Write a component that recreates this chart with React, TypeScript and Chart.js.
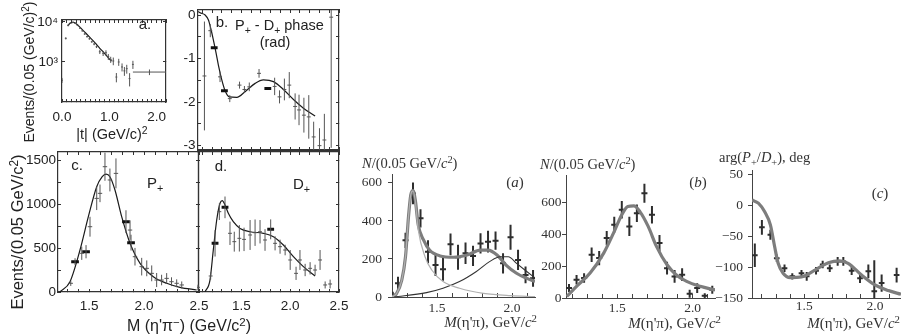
import React, { useEffect, useRef } from 'react';
import { Chart, registerables } from 'chart.js';

Chart.register(...registerables);

const SANS = '"Liberation Sans", Arial, Helvetica, sans-serif';
const SERIF = '"Liberation Serif", "Times New Roman", Times, serif';
const INK = '#333';
const TXT = '#222';
const RTXT = '#333';

// ---------------- Left (a): |t| distribution (log) ----------------
const tVals = [0.0, 0.08, 0.13, 0.18, 0.23, 0.28, 0.33, 0.38, 0.43, 0.48, 0.53, 0.58, 0.63, 0.68, 0.73, 0.8, 0.87, 0.93, 0.98, 1.03, 1.085, 1.15, 1.2, 1.27, 1.32, 1.37, 1.43, 1.5, 1.85];
const tEvents = [350, 3900, 8300, 9400, 9800, 9300, 8200, 7000, 6000, 5000, 4300, 3800, 3200, 2800, 2400, 1800, 1650, 1700, 1350, 1150, 1060, 420, 1000, 750, 600, 680, 385, 870, 560];
const tEventsErr = [50, 250, 350, 350, 350, 330, 300, 280, 260, 240, 220, 200, 190, 180, 170, 220, 240, 260, 230, 200, 230, 110, 200, 170, 150, 170, 140, 200, 90];
const tBinHalf = [0.02, 0.02, 0.02, 0.02, 0.02, 0.02, 0.02, 0.02, 0.02, 0.02, 0.02, 0.02, 0.02, 0.02, 0.02, 0.02, 0.02, 0.02, 0.02, 0.02, 0.02, 0.02, 0.02, 0.02, 0.02, 0.02, 0.02, 0.02, 0.35];
const tFitT = [0.12, 0.16, 0.2, 0.24, 0.3, 0.4, 0.5, 0.6, 0.7, 0.8, 0.9, 1.0, 1.05];
const tFitN = [7900, 9000, 9600, 9800, 9000, 7000, 5300, 4000, 3000, 2200, 1650, 1200, 1050];
const tXLabels = [0, 1, 2];
const tYLabels = [1000, 10000];
const tYNames = ['10³', '10⁴'];

// ---------------- Left (b): P+ - D+ phase (rad) ----------------
const phM = [1.12, 1.18, 1.28, 1.38, 1.48, 1.53, 1.58, 1.68, 1.84, 1.89, 1.94, 1.99, 2.05, 2.09, 2.14, 2.19, 2.24, 2.3, 2.35, 2.42];
const phV = [-1.4, -0.36, -1.42, -1.92, -1.61, -1.71, -1.65, -1.34, -1.64, -1.88, -1.71, -1.61, -2.1, -2.18, -2.3, -2.34, -2.8, -3.0, -2.87, -0.05];
const phErr = [1.25, 0.15, 0.12, 0.08, 0.08, 0.08, 0.1, 0.1, 0.2, 0.15, 0.25, 0.3, 0.3, 0.35, 0.4, 0.5, 0.35, 0.4, 0.6, 3.0];
const phFixM = [1.22, 1.325, 1.77];
const phFixV = [-0.75, -1.74, -1.69];
const phFitM = [1.056, 1.076, 1.127, 1.161, 1.185, 1.212, 1.24, 1.263, 1.298, 1.332, 1.376, 1.452, 1.537, 1.64, 1.725, 1.828, 1.93, 2.033, 2.135, 2.255];
const phFitV = [0.08, 0.05, 0.0, -0.115, -0.31, -0.575, -0.88, -1.15, -1.49, -1.74, -1.88, -1.89, -1.76, -1.57, -1.49, -1.53, -1.71, -1.94, -2.14, -2.32];
const phYLabels = [0, -1, -2, -3];

// ---------------- Left (c): P+ wave ----------------
const pM = [1.334, 1.434, 1.509, 1.57, 1.6, 1.645, 1.69, 1.745, 1.873, 1.918, 1.979, 2.025, 2.07, 2.115, 2.16, 2.206, 2.25, 2.297, 2.343];
const pN = [99, 440, 742, 1064, 1121, 1424, 1273, 1348, 704, 401, 288, 269, 212, 136, 136, 155, 117, 99, 80];
const pErr = [30, 75, 113, 133, 100, 160, 130, 170, 110, 100, 100, 90, 90, 80, 60, 60, 50, 45, 40];
const pFixM = [1.373, 1.473, 1.836, 1.882];
const pFixN = [344, 458, 799, 561];
const pFixErr = [40, 75, 130, 90];
const pFitM = [1.236, 1.327, 1.418, 1.494, 1.57, 1.62, 1.655, 1.69, 1.736, 1.797, 1.873, 1.964, 2.085, 2.206, 2.327, 2.479];
const pFitN = [3, 117, 477, 856, 1196, 1310, 1340, 1310, 1159, 856, 553, 326, 174, 99, 53, 23];
const lowYLabels = [0, 500, 1000, 1500];
const lowXLabels = [1.5, 2.0, 2.5];

// ---------------- Left (d): D+ wave ----------------
const dM = [1.055, 1.185, 1.274, 1.383, 1.427, 1.479, 1.527, 1.589, 1.64, 1.691, 1.742, 1.845, 1.896, 1.948, 2.0, 2.06, 2.1, 2.153, 2.204, 2.255, 2.306, 2.358, 2.409];
const dN = [53, 182, 913, 667, 572, 610, 598, 648, 674, 685, 591, 553, 515, 477, 364, 212, 364, 250, 269, 250, 364, 80, 91];
const dErr = [30, 40, 95, 133, 113, 150, 133, 170, 150, 133, 123, 80, 80, 60, 113, 75, 113, 70, 70, 60, 113, 40, 50];
const dFixM = [1.23, 1.332, 1.8];
const dFixN = [553, 962, 712];
const dFixErr = [150, 123, 113];
const dFitM = [1.127, 1.178, 1.212, 1.247, 1.281, 1.304, 1.332, 1.366, 1.417, 1.486, 1.589, 1.725, 1.828, 1.93, 2.033, 2.135, 2.255];
const dFitN = [0, 136, 477, 818, 1008, 1038, 989, 894, 799, 723, 685, 667, 629, 534, 401, 288, 182];

// ---------------- Right (a) ----------------
const raM = [1.205, 1.24, 1.29, 1.34, 1.39, 1.44, 1.49, 1.54, 1.59, 1.64, 1.69, 1.74, 1.79, 1.84, 1.89, 1.94, 1.99, 2.04, 2.09, 2.14];
const raN = [12, 72, 298, 545, 414, 238, 168, 146, 277, 209, 230, 216, 282, 291, 296, 177, 314, 195, 116, 98];
const raErr = [15, 35, 40, 57, 48, 61, 57, 61, 57, 66, 57, 53, 53, 57, 48, 53, 66, 53, 44, 44];
const raTotM = [1.2, 1.23, 1.265, 1.29, 1.31, 1.325, 1.34, 1.355, 1.375, 1.41, 1.45, 1.52, 1.61, 1.7, 1.79, 1.84, 1.9, 1.96, 2.03, 2.1, 2.153];
const raTotN = [0, 18, 88, 212, 423, 537, 560, 511, 379, 300, 247, 216, 209, 221, 247, 247, 221, 168, 125, 98, 81];
const raA2M = [1.2, 1.23, 1.265, 1.29, 1.31, 1.325, 1.34, 1.355, 1.375, 1.42, 1.465, 1.54, 1.65, 1.81, 1.99, 2.153];
const raA2N = [0, 18, 88, 212, 423, 537, 558, 505, 353, 212, 142, 81, 46, 19, 7, 2];
const raPiM = [1.21, 1.43, 1.54, 1.65, 1.76, 1.85, 1.92, 1.975, 2.03, 2.1, 2.153];
const raPiN = [0, 23, 46, 81, 133, 186, 212, 212, 177, 133, 100];
const rNYLabels = [0, 200, 400, 600];
const rXLabels = [1.5, 2.0];

// ---------------- Right (b) ----------------
const rbM = [1.18, 1.23, 1.28, 1.33, 1.38, 1.43, 1.48, 1.53, 1.58, 1.63, 1.68, 1.73, 1.78, 1.83, 1.88, 1.93, 1.98, 2.03, 2.08, 2.13];
const rbN = [62, 114, 125, 271, 250, 375, 458, 552, 448, 531, 656, 521, 344, 187, 135, 146, 27, 62, 14, 52];
const rbErr = [25, 30, 30, 45, 45, 45, 50, 55, 60, 55, 60, 55, 50, 40, 40, 40, 25, 30, 15, 25];
const rbFitM = [1.165, 1.23, 1.32, 1.41, 1.475, 1.53, 1.57, 1.61, 1.65, 1.705, 1.76, 1.83, 1.89, 1.96, 2.05, 2.148];
const rbFitN = [10, 73, 156, 281, 406, 521, 573, 577, 541, 448, 323, 208, 146, 104, 73, 50];

// ---------------- Right (c): arg(P+/D+) ----------------
const rcM = [1.15, 1.2, 1.26, 1.305, 1.36, 1.415, 1.48, 1.517, 1.583, 1.63, 1.68, 1.736, 1.776, 1.835, 1.894, 1.953, 1.995, 2.047, 2.153];
const rcV = [-81, -36, -48, -86, -102, -115, -110, -115, -106, -96, -102, -91, -91, -106, -118, -107, -139, -126, -113];
const rcErr = [19, 12, 8, 6, 6, 5, 5, 7, 6, 6, 6, 7, 7, 7, 8, 11, 50, 14, 12];
const rcFitM = [1.13, 1.175, 1.22, 1.26, 1.29, 1.315, 1.35, 1.4, 1.48, 1.575, 1.67, 1.75, 1.81, 1.905, 2.0, 2.095, 2.184];
const rcFitV = [8, 3, -11, -32, -67, -94, -110, -117, -116, -105, -93, -90, -94, -113, -129, -138, -144];
const rcYLabels = [50, 0, -50, -100, -150];

// ---------------- helpers ----------------
type P = { x: number; y: number | null };

function vBars(xs: number[], ys: number[], es: number[]): P[] {
  const out: P[] = [];
  xs.forEach((x, i) => {
    out.push({ x, y: ys[i] - es[i] }, { x, y: ys[i] + es[i] }, { x, y: null });
  });
  return out;
}
function hBars(xs: number[], ys: number[], dx: number | number[]): P[] {
  const out: P[] = [];
  xs.forEach((x, i) => {
    const d = Array.isArray(dx) ? dx[i] : dx;
    out.push({ x: x - d, y: ys[i] }, { x: x + d, y: ys[i] }, { x, y: null });
  });
  return out;
}
function pts(xs: number[], ys: number[]): P[] {
  return xs.map((x, i) => ({ x, y: ys[i] }));
}
const seg = (data: P[], color: string, width: number) => ({
  data, borderColor: color, borderWidth: width, pointRadius: 0, pointHoverRadius: 0,
  spanGaps: false, tension: 0, fill: false, borderCapStyle: 'butt',
});
const fit = (data: P[], color: string, width: number) => ({
  data, borderColor: color, borderWidth: width, pointRadius: 0, pointHoverRadius: 0,
  cubicInterpolationMode: 'monotone', fill: false,
});

const pick = (labels: number[], fmt: (v: number) => string) => (v: any) => {
  const n = Number(v);
  return labels.some((l) => Math.abs(l - n) < 1e-6) ? fmt(n) : '';
};
const zeroPad = (s: any) => { s.paddingLeft = 0; s.paddingRight = 0; s.paddingTop = 0; s.paddingBottom = 0; };
const fixH = (h: number) => (s: any) => { s.height = h; zeroPad(s); };
const fixW = (w: number) => (s: any) => { s.width = w; zeroPad(s); };
const explicitTicks = (vals: number[]) => (s: any) => { s.ticks = vals.map((v) => ({ value: v })); };

function frameScales(o: any) {
  const font = { family: SANS, size: 13.5 };
  const grid = { display: true, drawOnChartArea: false, drawTicks: true, tickLength: -3, tickColor: INK, tickWidth: 1 };
  const border = { display: true, color: INK, width: 1.2 };
  const xBase = { type: 'linear', min: o.x[0], max: o.x[1], grid, border };
  const xTicks = {
    stepSize: o.xStep, autoSkip: false, includeBounds: false, maxRotation: 0, minRotation: 0,
    maxTicksLimit: 1000, padding: o.xPad, color: TXT, font, callback: pick(o.xLabels, o.xFmt),
  };
  const yBase: any = o.yLog
    ? { type: 'logarithmic', min: o.y[0], max: o.y[1], grid, border, afterBuildTicks: explicitTicks(o.yLabels) }
    : { type: 'linear', min: o.y[0], max: o.y[1], grid, border };
  const yTicks = {
    stepSize: o.yStep, autoSkip: false, includeBounds: false, maxTicksLimit: 1000,
    padding: o.yPad, color: TXT, font, callback: pick(o.yLabels, o.yFmt),
  };
  return {
    x: { ...xBase, position: 'bottom', border: { ...border, width: o.bottomWidth || 1.2 },
      ticks: { ...xTicks, display: o.xH > 2 }, afterFit: fixH(o.xH) },
    xt: { ...xBase, axis: 'x', position: 'top', ticks: { ...xTicks, display: false }, afterFit: fixH(0) },
    y: { ...yBase, position: 'left', ticks: { ...yTicks, display: o.yW > 2 }, afterFit: fixW(o.yW) },
    yr: { ...yBase, axis: 'y', position: 'right', ticks: { ...yTicks, display: false }, afterFit: fixW(0) },
  };
}

function axesScales(o: any) {
  const font = { family: SERIF, size: 13.5 };
  const AX = '#444';
  const border = { display: true, color: AX, width: 1 };
  return {
    x: {
      type: 'linear', position: 'bottom', min: o.x[0], max: o.x[1], border,
      grid: { display: true, drawOnChartArea: false, drawTicks: true, tickLength: -4, tickColor: AX, tickWidth: 1 },
      ticks: { display: true, stepSize: 0.1, autoSkip: false, includeBounds: false, maxRotation: 0, minRotation: 0, maxTicksLimit: 1000,
        padding: o.xPad, color: RTXT, font, callback: pick(rXLabels, (v) => v.toFixed(1)) },
      afterFit: fixH(o.xH),
    },
    y: {
      type: 'linear', position: 'left', min: o.y[0], max: o.y[1], border,
      grid: { display: true, drawOnChartArea: false, drawTicks: true, tickLength: 4, tickColor: AX, tickWidth: 1 },
      ticks: { display: true, autoSkip: false, padding: o.yPad, color: RTXT, font, callback: pick(o.yLabels, o.yFmt) },
      afterBuildTicks: explicitTicks(o.yLabels),
      afterFit: fixW(o.yW),
    },
  };
}

function config(datasets: any[], scales: any, padTop: number, padRight: number) {
  return {
    type: 'line',
    data: { datasets },
    options: {
      animation: false, responsive: false, devicePixelRatio: 1, events: [],
      layout: { padding: { left: 0, top: padTop, right: padRight, bottom: 0 } },
      plugins: { legend: { display: false }, tooltip: { enabled: false }, title: { display: false } },
      scales,
    },
  };
}

const CROSS_L = '#555';
const FIT_L = '#1a1a1a';
const THICK = '#111';
const CROSS_R = '#2e2e2e';

const SPECS = [
  // Left (a)
  {
    l: 25, t: 12, w: 145, h: 112,
    build: () => config(
      [
        seg(vBars(tVals, tEvents, tEventsErr), CROSS_L, 1),
        seg(hBars(tVals, tEvents, tBinHalf), CROSS_L, 1),
        fit(pts(tFitT, tFitN), FIT_L, 1.2),
      ],
      frameScales({
        x: [0, 2.2], xStep: 0.1, xLabels: tXLabels, xFmt: (v: number) => v.toFixed(1), xH: 22, xPad: 10,
        y: [100, 11200], yLog: true, yLabels: tYLabels,
        yFmt: (v: number) => tYNames[tYLabels.indexOf(v)] || '', yW: 37, yPad: 7,
      }),
      8, 4,
    ),
  },
  // Left (b)
  {
    l: 172, t: 2, w: 173, h: 150,
    build: () => config(
      [
        seg(vBars(phM, phV, phErr), CROSS_L, 1),
        seg(hBars(phM, phV, 0.02), CROSS_L, 1),
        seg(hBars(phFixM, phFixV, 0.035), THICK, 3),
        fit(pts(phFitM, phFitV), FIT_L, 1.2),
      ],
      frameScales({
        x: [1.054, 2.5], xStep: 0.1, xLabels: [], xFmt: (v: number) => v.toFixed(1), xH: 2, xPad: 0,
        y: [-3.1, 0.115], yStep: 0.5, yLabels: phYLabels, yFmt: (v: number) => String(v), yW: 26, yPad: 5.5,
        bottomWidth: 2,
      }),
      8, 6,
    ),
  },
  // Left (c)
  {
    l: 0, t: 145, w: 212, h: 171,
    build: () => config(
      [
        seg(vBars(pM, pN, pErr), CROSS_L, 1),
        seg(hBars(pM, pN, 0.02), CROSS_L, 1),
        seg(vBars(pFixM, pFixN, pFixErr), CROSS_L, 1),
        seg(hBars(pFixM, pFixN, 0.035), THICK, 3),
        fit(pts(pFitM, pFitN), FIT_L, 1.2),
      ],
      frameScales({
        x: [1.218, 2.5], xStep: 0.1, xLabels: lowXLabels, xFmt: (v: number) => v.toFixed(1), xH: 24, xPad: 9.6,
        y: [0, 1591], yStep: 250, yLabels: lowYLabels, yFmt: (v: number) => String(v), yW: 58, yPad: 5,
      }),
      7, 13,
    ),
  },
  // Left (d)
  {
    l: 197, t: 145, w: 157, h: 171,
    build: () => config(
      [
        seg(vBars(dM, dN, dErr), CROSS_L, 1),
        seg(hBars(dM, dN, 0.02), CROSS_L, 1),
        seg(vBars(dFixM, dFixN, dFixErr), CROSS_L, 1),
        seg(hBars(dFixM, dFixN, 0.035), THICK, 3),
        fit(pts(dFitM, dFitN), FIT_L, 1.2),
      ],
      frameScales({
        x: [1.045, 2.5], xStep: 0.1, xLabels: lowXLabels, xFmt: (v: number) => v.toFixed(1), xH: 24, xPad: 9.6,
        y: [0, 1591], yStep: 250, yLabels: lowYLabels, yFmt: (v: number) => String(v), yW: 0, yPad: 5,
      }),
      7, 15,
    ),
  },
  // Right (a)
  {
    l: 355, t: 168, w: 182, h: 150,
    build: () => config(
      [
        fit(pts(raA2M, raA2N), '#b0b0b0', 1.2),
        fit(pts(raPiM, raPiN), '#333', 1.1),
        fit(pts(raTotM, raTotN), '#7d7d7d', 3.2),
        seg(vBars(raM, raN, raErr), CROSS_R, 2),
        seg(hBars(raM, raN, 0.02), CROSS_R, 2),
      ],
      axesScales({
        x: [1.2, 2.153], xH: 21, xPad: 7.2,
        y: [0, 647], yLabels: rNYLabels, yFmt: (v: number) => String(v), yW: 37, yPad: 6,
      }),
      6, 2,
    ),
  },
  // Right (b)
  {
    l: 530, t: 169, w: 190, h: 150,
    build: () => config(
      [
        fit(pts(rbFitM, rbFitN), '#7d7d7d', 3.2),
        seg(vBars(rbM, rbN, rbErr), CROSS_R, 2),
        seg(hBars(rbM, rbN, 0.02), CROSS_R, 2),
      ],
      axesScales({
        x: [1.16, 2.148], xH: 21, xPad: 6.2,
        y: [0, 770], yLabels: rNYLabels, yFmt: (v: number) => String(v), yW: 36, yPad: 0.5,
      }),
      6, 5,
    ),
  },
  // Right (c)
  {
    l: 712, t: 164, w: 189, h: 155,
    build: () => config(
      [
        fit(pts(rcFitM, rcFitV), '#7d7d7d', 3.2),
        seg(vBars(rcM, rcV, rcErr), CROSS_R, 2),
        seg(hBars(rcM, rcV, 0.02), CROSS_R, 2),
      ],
      axesScales({
        x: [1.13, 2.184], xH: 21, xPad: 4.6,
        y: [-150, 56.5], yLabels: rcYLabels,
        yFmt: (v: number) => (v < 0 ? '\u2212' + String(-v) : String(v)), yW: 40, yPad: 5,
      }),
      6, 0,
    ),
  },
];

// ---------------- text helpers ----------------
const Sub = ({ c }: { c: string }) => (
  <span style={{ fontSize: '0.72em', position: 'relative', top: '0.35em' }}>{c}</span>
);
const Sup = ({ c }: { c: string }) => (
  <span style={{ fontSize: '0.72em', position: 'relative', top: '-0.45em' }}>{c}</span>
);
const I = ({ c }: { c: string }) => <span style={{ fontStyle: 'italic' }}>{c}</span>;

function Lbl(props: { x: number; y: number; a?: string; size?: number; serif?: boolean; rot?: boolean; color?: string; children: any }) {
  const { x, y, a = 'c', size = 14, serif = false, rot = false, color, children } = props;
  const tx = a === 'c' ? '-50%' : a === 'l' ? '0%' : '-100%';
  return (
    <div
      style={{
        position: 'absolute', left: x, top: y,
        transform: `translate(${tx}, -50%)${rot ? ' rotate(-90deg)' : ''}`,
        transformOrigin: rot ? '50% 50%' : undefined,
        fontFamily: serif ? SERIF : SANS, fontSize: size, color: color || (serif ? RTXT : TXT),
        whiteSpace: 'nowrap', lineHeight: 1, pointerEvents: 'none',
      }}
    >
      {children}
    </div>
  );
}

export default function App() {
  const refs = useRef<(HTMLCanvasElement | null)[]>([]);
  useEffect(() => {
    const charts = SPECS.map((s, i) => new Chart(refs.current[i] as HTMLCanvasElement, s.build() as any));
    return () => charts.forEach((c) => c.destroy());
  }, []);
  return (
    <div style={{ position: 'absolute', left: 0, top: 0, width: 901, height: 336, overflow: 'hidden', background: '#fff' }}>
      {SPECS.map((s, i) => (
        <canvas
          key={i}
          ref={(el) => { refs.current[i] = el; }}
          width={s.w}
          height={s.h}
          style={{ position: 'absolute', left: s.l, top: s.t, width: s.w, height: s.h }}
        />
      ))}

      {/* left group texts */}
      <Lbl x={29} y={72} rot size={14}>Events/(0.05 (GeV/c)<Sup c="2" />)</Lbl>
      <Lbl x={17} y={232} rot size={16.5}>Events/(0.05 GeV/c<Sup c="2" />)</Lbl>
      <Lbl x={112} y={134} size={14.5}>|t| (GeV/c)<Sup c="2" /></Lbl>
      <Lbl x={189} y={326} size={16}>M (η'π<Sup c="−" />) (GeV/c<Sup c="2" />)</Lbl>
      <Lbl x={145} y={23} size={15}>a.</Lbl>
      <Lbl x={222} y={21} size={15}>b.</Lbl>
      <Lbl x={235} y={25} a="l" size={14.5}>P<Sub c="+" /> - D<Sub c="+" /> phase</Lbl>
      <Lbl x={275} y={42} size={14.5}>(rad)</Lbl>
      <Lbl x={77} y={164} size={15}>c.</Lbl>
      <Lbl x={147} y={182} a="l" size={15}>P<Sub c="+" /></Lbl>
      <Lbl x={221} y={165} size={15}>d.</Lbl>
      <Lbl x={293} y={183} a="l" size={15}>D<Sub c="+" /></Lbl>

      {/* right group texts */}
      <Lbl x={362} y={163} a="l" serif size={14.5}><I c="N" />/(0.05 GeV/<I c="c" /><Sup c="2" />)</Lbl>
      <Lbl x={540} y={164} a="l" serif size={14.5}><I c="N" />/(0.05 GeV/<I c="c" /><Sup c="2" />)</Lbl>
      <Lbl x={719} y={157} a="l" serif size={14.5}>arg(<I c="P" /><Sub c="+" />/<I c="D" /><Sub c="+" />), deg</Lbl>
      <Lbl x={515} y={182} serif size={15}>(<I c="a" />)</Lbl>
      <Lbl x={698} y={182} serif size={15}>(<I c="b" />)</Lbl>
      <Lbl x={880} y={193} serif size={15}>(<I c="c" />)</Lbl>
      <Lbl x={537} y={322} a="r" serif size={15}><I c="M" />(η'π), GeV/<I c="c" /><Sup c="2" /></Lbl>
      <Lbl x={721} y={323} a="r" serif size={15}><I c="M" />(η'π), GeV/<I c="c" /><Sup c="2" /></Lbl>
      <Lbl x={900} y={323} a="r" serif size={15}><I c="M" />(η'π), GeV/<I c="c" /><Sup c="2" /></Lbl>
    </div>
  );
}
